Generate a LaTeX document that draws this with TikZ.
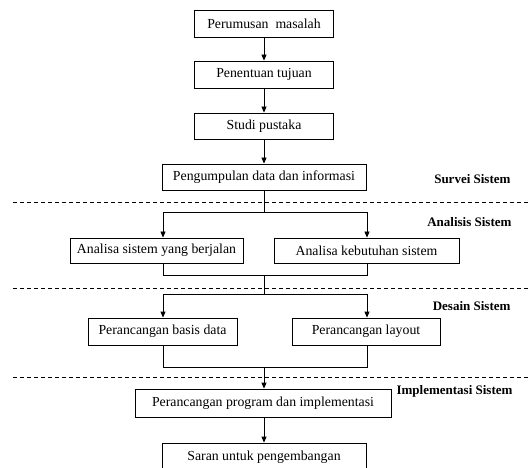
\documentclass[tikz,border=0pt]{standalone}
\usepackage{fontspec}
\setmainfont{Liberation Serif}
\usetikzlibrary{arrows.meta}
\begin{document}
\begin{tikzpicture}[x=1pt,y=-1pt,
  stepbox/.style={draw,line width=0.8pt,inner sep=0pt,font=\fontsize{13.8}{15}\selectfont},
  flow/.style={line width=0.8pt,-{Triangle[length=6pt,width=5pt]}},
  link/.style={line width=0.8pt},
  sep/.style={dashed,line width=0.7pt,dash pattern=on 4pt off 3pt},
  phase/.style={font=\bfseries\fontsize{13}{15}\selectfont,anchor=east}]
\clip (0,0) rectangle (528,468);
\fill[white] (0,0) rectangle (528,468);
% process boxes
\node[stepbox,minimum width=139,minimum height=27] (b1) at (264,23.5) {Perumusan\ \ masalah};
\node[stepbox,minimum width=139,minimum height=27] (b2) at (264,74.5) {Penentuan tujuan};
\node[stepbox,minimum width=139,minimum height=26] (b3) at (264,126) {Studi pustaka};
\node[stepbox,minimum width=204,minimum height=26] (b4) at (264,177) {Pengumpulan data dan informasi};
\node[stepbox,minimum width=173,minimum height=25] (b5) at (156.5,250.5) {Analisa sistem yang berjalan};
\node[stepbox,minimum width=185,minimum height=25] (b6) at (366.5,250.5) {Analisa kebutuhan sistem};
\node[stepbox,minimum width=149,minimum height=27] (b7) at (162.5,331.5) {Perancangan basis data};
\node[stepbox,minimum width=148,minimum height=27] (b8) at (366,331.5) {Perancangan layout};
\node[stepbox,minimum width=256,minimum height=28] (b9) at (263,403) {Perancangan program dan implementasi};
\node[stepbox,minimum width=204,minimum height=28] (b10) at (264,457) {Saran untuk pengembangan};
% junction points
\coordinate (s1) at (264,212);
\coordinate (s1l) at (163,212);
\coordinate (s1r) at (367,212);
\coordinate (m1) at (264,275);
\coordinate (s2) at (264,294);
\coordinate (s2l) at (163,294);
\coordinate (s2r) at (367,294);
\coordinate (m2) at (264,367);
% connectors
\draw[flow] (b1) -- (b2);
\draw[flow] (b2) -- (b3);
\draw[flow] (b3) -- (b4);
\draw[link] (b4) -- (s1);
\draw[flow] (s1) -- (s1l) -- (s1l |- b5.north);
\draw[flow] (s1) -- (s1r) -- (s1r |- b6.north);
\draw[link] (s1l |- b5.south) -- (s1l |- m1) -- (s1r |- m1) -- (s1r |- b6.south);
\draw[link] (m1) -- (s2);
\draw[flow] (s2) -- (s2l) -- (s2l |- b7.north);
\draw[flow] (s2) -- (s2r) -- (s2r |- b8.north);
\draw[link] (s2l |- b7.south) -- (s2l |- m2) -- (s2r |- m2) -- (s2r |- b8.south);
\draw[flow] (m2) -- (m2 |- b9.north);
\draw[flow] (b9.south -| b10) -- (b10);
% phase separators
\coordinate (d1a) at (13,202);  \coordinate (d1b) at (528,202);
\coordinate (d2a) at (13,288);  \coordinate (d2b) at (528,288);
\coordinate (d3a) at (13,377);  \coordinate (d3b) at (528,377);
\draw[sep] (d1a) -- (d1b);
\draw[sep] (d2a) -- (d2b);
\draw[sep] (d3a) -- (d3b);
% phase labels
\node[phase] (p1) at (514,179) {Survei Sistem};
\node[phase] (p2) at (515,222) {Analisis Sistem};
\node[phase] (p3) at (514,306) {Desain Sistem};
\node[phase] (p4) at (516,391) {Implementasi Sistem};
\end{tikzpicture}
\end{document}
